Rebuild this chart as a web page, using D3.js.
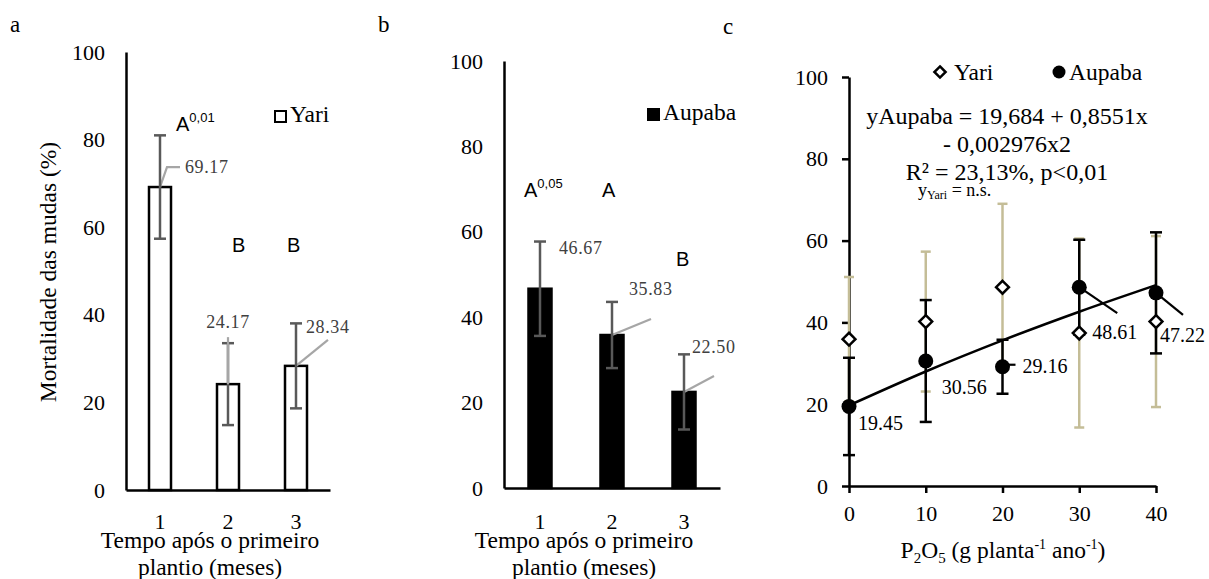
<!DOCTYPE html>
<html><head><meta charset="utf-8">
<script src="https://cdn.jsdelivr.net/npm/d3@7"></script>
<style>
body{margin:0;background:#fff;}
svg{display:block;}
</style></head>
<body>
<svg id="chart" width="1209" height="579"></svg>
<script>
// ---------- data ----------
const months = [1, 2, 3];
const yariMonthly = [69.17, 24.17, 28.34];
const yariMonthlyErr = [11.8, 9.35, 9.7];
const yariLetters = ["A", "B", "B"];
const yariSup = ["0,01", "", ""];
const aupabaMonthly = [46.67, 35.83, 22.50];
const aupabaMonthlyErr = [11.05, 7.75, 8.8];
const aupabaLetters = ["A", "A", "B"];
const aupabaSup = ["0,05", "", ""];
const doses = [0, 10, 20, 30, 40];
const yariDose = [35.9, 40.2, 48.6, 37.4, 40.2];
const yariDoseErr = [15.2, 17.1, 20.4, 23.1, 20.9];
const aupabaDose = [19.45, 30.56, 29.16, 48.61, 47.22];
const aupabaDoseErr = [11.9, 14.9, 6.6, 11.6, 14.8];
const fitX = [0, 10, 20, 30, 40];
const fitY = [19.7, 28.0, 35.6, 42.6, 49.1];
const yTicks = [0, 20, 40, 60, 80, 100];
const doseTicks = [0, 10, 20, 30, 40];

const svg = d3.select("#chart");
const SERIF = '"Liberation Serif","Times New Roman",serif';
const SANS = '"Liberation Sans",Arial,sans-serif';
const ERR = "#595959", LEAD = "#a6a6a6", TAN = "#c4bd97";

function styleAxis(g, size) {
  g.attr("font-family", SERIF).attr("font-size", size);
  g.selectAll("path.domain").attr("stroke", "#000").attr("stroke-width", 2.5);
  g.selectAll(".tick line").attr("stroke", "#000").attr("stroke-width", 2.5);
  g.selectAll("text").attr("font-family", SERIF).attr("font-size", size).attr("fill", "#000");
}

// ---------- bar panels ----------
function barPanel(cfg) {
  const x = d3.scaleBand().domain(months).range(cfg.xr).padding(0);
  const y = d3.scaleLinear().domain([0, 100]).range(cfg.yr);
  const g = svg.append("g");
  const bw = cfg.bw;
  const cx = i => x(months[i]) + x.bandwidth() / 2;

  g.selectAll("rect.bar").data(cfg.vals).join("rect")
    .attr("x", (d, i) => cx(i) - bw / 2).attr("width", bw)
    .attr("y", d => y(d)).attr("height", d => y(0) - y(d))
    .attr("fill", cfg.fill).attr("stroke", "#000").attr("stroke-width", 2.5);

  const drawLeader = (v, i) => {
    const pts = cfg.leaders[i];
    if (!pts) return;
    const line = [[cx(i), y(v)]].concat(pts.map(p => [cx(i) + p[0], y(v) + p[1]]));
    g.append("path").attr("d", d3.line()(line)).attr("fill", "none")
      .attr("stroke", LEAD).attr("stroke-width", 2.2);
  };
  cfg.vals.forEach((v, i) => { if (!cfg.leaderOnTop[i]) drawLeader(v, i); });

  cfg.vals.forEach((v, i) => {
    const e = cfg.errs[i], c = cx(i);
    const eg = g.append("g").attr("stroke", ERR).attr("stroke-width", 2.5);
    eg.append("line").attr("x1", c).attr("x2", c).attr("y1", y(v + e)).attr("y2", y(v - e));
    eg.append("line").attr("x1", c - 6).attr("x2", c + 6).attr("y1", y(v + e)).attr("y2", y(v + e));
    eg.append("line").attr("x1", c - 6).attr("x2", c + 6).attr("y1", y(v - e)).attr("y2", y(v - e));
  });
  cfg.vals.forEach((v, i) => { if (cfg.leaderOnTop[i]) drawLeader(v, i); });

  g.selectAll("text.val").data(cfg.vals).join("text")
    .attr("x", (d, i) => cx(i) + cfg.labOff[i][0])
    .attr("y", (d, i) => y(d) + cfg.labOff[i][1])
    .attr("text-anchor", (d, i) => cfg.labOff[i][2])
    .attr("dominant-baseline", "central")
    .attr("font-family", SERIF).attr("font-size", 18).attr("letter-spacing", 0.6)
    .attr("fill", "#404040")
    .text(d => d.toFixed(2));

  cfg.letters.forEach((L, i) => {
    const t = g.append("text")
      .attr("x", cx(i) + cfg.letPos[i][0]).attr("y", y(cfg.letPos[i][1]))
      .attr("font-family", SANS).attr("font-size", 20).attr("fill", "#000");
    t.append("tspan").text(L);
    if (cfg.sups[i]) t.append("tspan").attr("dy", -9).attr("font-size", 13).text(cfg.sups[i]);
  });

  const ya = g.append("g").attr("transform", `translate(${cfg.xr[0]},0)`)
    .call(d3.axisLeft(y).tickValues(yTicks).tickSize(0).tickPadding(21));
  styleAxis(ya, 22);
  const xa = g.append("g").attr("transform", `translate(0,${cfg.yr[0]})`)
    .call(d3.axisBottom(x).tickSize(0).tickPadding(cfg.xPad));
  styleAxis(xa, 22);

  const xt = g.append("text").attr("text-anchor", "middle")
    .attr("font-family", SERIF).attr("font-size", 23.5).attr("fill", "#000");
  xt.append("tspan").attr("x", cfg.titleX).attr("y", 548).text("Tempo após o primeiro");
  xt.append("tspan").attr("x", cfg.titleX).attr("y", 575).text("plantio (meses)");

  g.append("rect").attr("x", cfg.leg[0]).attr("y", cfg.leg[1]).attr("width", 11).attr("height", 11)
    .attr("fill", cfg.fill).attr("stroke", "#000").attr("stroke-width", 2);
  g.append("text").attr("x", cfg.leg[0] + 15).attr("y", cfg.leg[1] + 11)
    .attr("font-family", SERIF).attr("font-size", 23.5).attr("fill", "#000").text(cfg.legText);

  svg.append("text").attr("x", cfg.letter[0]).attr("y", 32).attr("font-family", SERIF)
    .attr("font-size", 23).attr("fill", "#000").text(cfg.letter[1]);
}

barPanel({
  xr: [126, 330], yr: [490, 52], bw: 22, fill: "#fff",
  vals: yariMonthly, errs: yariMonthlyErr,
  letters: yariLetters, sups: yariSup,
  letPos: [[16, 82], [4, 54.3], [-9, 54.3]],
  leaders: [[[7, -20], [20, -20]], [[0, -47]], [[32, -26]]],
  leaderOnTop: [false, true, false],
  labOff: [[25, -20, "start"], [0, -62, "middle"], [10, -39, "start"]],
  xPad: 23, titleX: 210, leg: [275, 111], legText: "Yari", letter: [10, "a"]
});

barPanel({
  xr: [504, 720], yr: [488, 61], bw: 23, fill: "#000",
  vals: aupabaMonthly, errs: aupabaMonthlyErr,
  letters: aupabaLetters, sups: aupabaSup,
  letPos: [[-16, 68.1], [-10, 68.1], [-8, 52]],
  leaders: [null, [[39, -16]], [[30, -16]]],
  leaderOnTop: [false, false, false],
  labOff: [[19, -41, "start"], [17, -46, "start"], [8, -45, "start"]],
  xPad: 25, titleX: 584, leg: [648, 109], legText: "Aupaba", letter: [378, "b"]
});

// ---------- panel c ----------
(function () {
  const x = d3.scaleLinear().domain([0, 40]).range([849, 1156]);
  const y = d3.scaleLinear().domain([0, 100]).range([486, 77]);
  const g = svg.append("g");

  const ya = g.append("g").attr("transform", "translate(849,0)")
    .call(d3.axisLeft(y).tickValues(yTicks).tickSizeInner(7).tickSizeOuter(0).tickPadding(14));
  styleAxis(ya, 22);
  const xa = g.append("g").attr("transform", "translate(0,486)")
    .call(d3.axisBottom(x).tickValues(doseTicks).tickSizeInner(7).tickSizeOuter(0).tickPadding(12));
  styleAxis(xa, 22);

  function errBars(vals, errs, color, cap) {
    const eg = g.append("g").attr("stroke", color).attr("stroke-width", 2.5);
    vals.forEach((v, i) => {
      const c = x(doses[i]);
      eg.append("line").attr("x1", c).attr("x2", c).attr("y1", y(v + errs[i])).attr("y2", y(v - errs[i]));
      eg.append("line").attr("x1", c - cap).attr("x2", c + cap).attr("y1", y(v + errs[i])).attr("y2", y(v + errs[i]));
      eg.append("line").attr("x1", c - cap).attr("x2", c + cap).attr("y1", y(v - errs[i])).attr("y2", y(v - errs[i]));
    });
  }
  errBars(yariDose, yariDoseErr, TAN, 5);
  errBars(aupabaDose, aupabaDoseErr, "#000", 6);

  g.append("path").datum(fitX.map((d, i) => [d, fitY[i]]))
    .attr("d", d3.line().x(d => x(d[0])).y(d => y(d[1])).curve(d3.curveMonotoneX))
    .attr("fill", "none").attr("stroke", "#000").attr("stroke-width", 2.5);

  const leaders = [null, null, [[5, -2], [13, -2]], [[0, 0], [38, 26]], [[0, 0], [27, 22]]];
  aupabaDose.forEach((v, i) => {
    const p = leaders[i];
    if (!p) return;
    g.append("path").attr("d", d3.line()(p.map(q => [x(doses[i]) + q[0], y(v) + q[1]])))
      .attr("fill", "none").attr("stroke", "#000").attr("stroke-width", 2.2);
  });

  const dia = d3.symbol().type(d3.symbolDiamond2).size(105);
  g.selectAll("path.dia").data(yariDose).join("path")
    .attr("transform", (d, i) => `translate(${x(doses[i])},${y(d)})`)
    .attr("d", dia).attr("fill", "#fff").attr("stroke", "#000").attr("stroke-width", 2.5);
  g.selectAll("circle.pt").data(aupabaDose).join("circle")
    .attr("cx", (d, i) => x(doses[i])).attr("cy", d => y(d)).attr("r", 7.5).attr("fill", "#000");

  const labOff = [[9, 17], [16, 26], [20, -1], [13, 45], [4, 42]];
  g.selectAll("text.val").data(aupabaDose).join("text")
    .attr("x", (d, i) => x(doses[i]) + labOff[i][0])
    .attr("y", (d, i) => y(d) + labOff[i][1])
    .attr("dominant-baseline", "central")
    .attr("font-family", SERIF).attr("font-size", 20).attr("fill", "#000")
    .text(d => d.toFixed(2));

  g.append("path").attr("transform", "translate(940,72)").attr("d", d3.symbol().type(d3.symbolDiamond2).size(80))
    .attr("fill", "#fff").attr("stroke", "#000").attr("stroke-width", 2.5);
  g.append("text").attr("x", 954).attr("y", 80).attr("font-family", SERIF).attr("font-size", 23.5).text("Yari");
  g.append("circle").attr("cx", 1059).attr("cy", 72).attr("r", 6.5).attr("fill", "#000");
  g.append("text").attr("x", 1069).attr("y", 80).attr("font-family", SERIF).attr("font-size", 23.5).text("Aupaba");

  const eq = g.append("text").attr("text-anchor", "middle").attr("font-family", SERIF).attr("font-size", 24).attr("fill", "#000");
  eq.append("tspan").attr("x", 1007).attr("y", 124).text("yAupaba = 19,684 + 0,8551x");
  eq.append("tspan").attr("x", 1007).attr("y", 152).text("- 0,002976x2");
  eq.append("tspan").attr("x", 1007).attr("y", 180).text("R² = 23,13%, p<0,01");
  const ny = g.append("text").attr("x", 918).attr("y", 196).attr("font-family", SERIF).attr("font-size", 18).attr("fill", "#000");
  ny.append("tspan").text("y");
  ny.append("tspan").attr("font-size", 12).attr("dy", 3).text("Yari");
  ny.append("tspan").attr("dy", -3).text(" = n.s.");

  const xt = g.append("text").attr("x", 1003).attr("y", 558).attr("text-anchor", "middle")
    .attr("font-family", SERIF).attr("font-size", 23.5).attr("fill", "#000");
  xt.append("tspan").text("P");
  xt.append("tspan").attr("font-size", 15).attr("dy", 5).text("2");
  xt.append("tspan").attr("dy", -5).text("O");
  xt.append("tspan").attr("font-size", 15).attr("dy", 5).text("5");
  xt.append("tspan").attr("dy", -5).text(" (g planta");
  xt.append("tspan").attr("font-size", 14).attr("dy", -9).text("-1");
  xt.append("tspan").attr("dy", 9).text(" ano");
  xt.append("tspan").attr("font-size", 14).attr("dy", -9).text("-1");
  xt.append("tspan").attr("dy", 9).text(")");

  svg.append("text").attr("x", 723).attr("y", 34).attr("font-family", SERIF).attr("font-size", 23).text("c");
})();

svg.append("text").attr("transform", "translate(56,272) rotate(-90)").attr("text-anchor", "middle")
  .attr("font-family", SERIF).attr("font-size", 23.5).attr("fill", "#000").text("Mortalidade das mudas (%)");
</script>
</body></html>
